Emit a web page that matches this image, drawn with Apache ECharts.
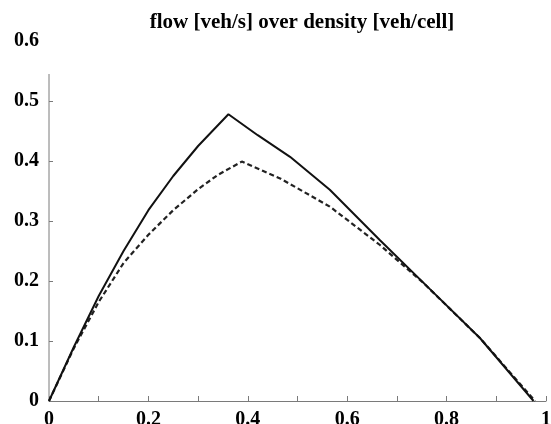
<!DOCTYPE html>
<html>
<head>
<meta charset="utf-8">
<script src="https://cdn.jsdelivr.net/npm/echarts@6/dist/echarts.min.js"></script>
<style>
html,body{margin:0;padding:0;background:#fff;}
#chart{width:551px;height:424px;}
</style>
</head>
<body>
<div id="chart"></div>
<script>
// Solid curve
var solidDensity = [0, 0.05, 0.1, 0.15, 0.2, 0.25, 0.3, 0.361, 0.42, 0.485, 0.565, 0.666, 0.767, 0.867, 0.975];
var solidFlow    = [0, 0.09, 0.175, 0.25, 0.318, 0.375, 0.425, 0.478, 0.443, 0.407, 0.352, 0.268, 0.186, 0.105, 0];
// Dashed curve
var dashedDensity = [0, 0.05, 0.1, 0.15, 0.2, 0.25, 0.3, 0.34, 0.388, 0.465, 0.565, 0.666, 0.753, 0.867, 0.978];
var dashedFlow    = [0, 0.088, 0.165, 0.23, 0.277, 0.318, 0.353, 0.377, 0.399, 0.371, 0.324, 0.26, 0.197, 0.105, 0];
// Tick labels
var xTickLabels = [0, 0.2, 0.4, 0.6, 0.8, 1];
var yTickLabels = [0, 0.1, 0.2, 0.3, 0.4, 0.5, 0.6];
var yTickMarks = [0.1, 0.2, 0.3, 0.4, 0.5];
// visible extent of the y axis line
var yAxisLineExtent = [0, 0.545];

function pairs(xs, ys) { return xs.map(function (x, i) { return [x, ys[i]]; }); }

var serif = "'Liberation Serif', 'DejaVu Serif', serif";
var axisColor = '#7a7a7a';

var chart = echarts.init(document.getElementById('chart'));
chart.setOption({
  animation: false,
  backgroundColor: '#fff',
  title: {
    text: 'flow [veh/s] over density [veh/cell]',
    left: 297, top: 7, textAlign: 'center',
    textStyle: { fontFamily: serif, fontWeight: 'bold', fontSize: 21, color: '#000' }
  },
  grid: { left: 49, right: 5, top: 41, bottom: 23, containLabel: false, outerBoundsMode: 'none' },
  xAxis: {
    type: 'value', min: 0, max: 1, interval: 0.1,
    axisLine: { show: true, lineStyle: { color: axisColor, width: 1 } },
    axisTick: { show: true, inside: true, length: 5, lineStyle: { color: axisColor } },
    splitLine: { show: false },
    axisLabel: {
      customValues: xTickLabels,
      margin: 9,
      fontFamily: serif, fontWeight: 'bold', fontSize: 20, color: '#000'
    }
  },
  yAxis: {
    type: 'value', min: 0, max: 0.6, interval: 0.1,
    axisLine: { show: false },
    axisTick: { show: true, inside: true, length: 4, customValues: yTickMarks, lineStyle: { color: axisColor } },
    splitLine: { show: false },
    axisLabel: {
      customValues: yTickLabels,
      margin: 10,
      fontFamily: serif, fontWeight: 'bold', fontSize: 20, color: '#000'
    }
  },
  series: [
    {
      name: 'yAxisLine', type: 'line', silent: true, symbol: 'none', z: 1,
      data: [[0, yAxisLineExtent[0]], [0, yAxisLineExtent[1]]],
      lineStyle: { color: axisColor, width: 1 }
    },
    {
      name: 'solid', type: 'line', symbol: 'none', z: 3,
      data: pairs(solidDensity, solidFlow),
      lineStyle: { color: '#111', width: 2, type: 'solid' }
    },
    {
      name: 'dashed', type: 'line', symbol: 'none', z: 2,
      data: pairs(dashedDensity, dashedFlow),
      lineStyle: { color: '#222', width: 2.2, type: [5, 3] }
    }
  ]
});
</script>
</body>
</html>
